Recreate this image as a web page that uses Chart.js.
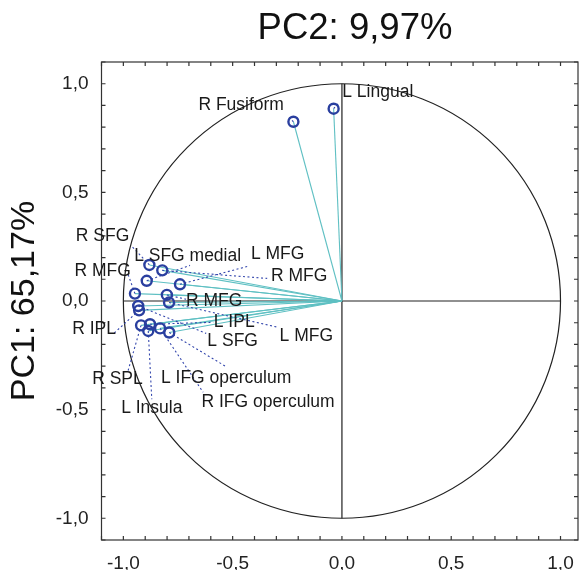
<!DOCTYPE html>
<html><head><meta charset="utf-8">
<script src="https://cdn.jsdelivr.net/npm/chart.js@4/dist/chart.umd.min.js"></script>
<style>html,body{margin:0;padding:0;background:#fff}#wrap{width:580px;height:570px}</style>
</head><body><div id="wrap"><canvas id="c" width="580" height="570"></canvas></div>
<script>
// Regions (variables) and their loadings on PC2 (x) and PC1 (y)
const regions = ["R SFG","L SFG medial","L MFG","R MFG","R MFG","R MFG","L MFG","L IPL","L SFG","R IPL","R SPL","L IFG operculum","R IFG operculum","L Insula","R Fusiform","L Lingual"];
const loadX = [-0.881,-0.893,-0.741,-0.822,-0.947,-0.801,-0.791,-0.878,-0.932,-0.928,-0.919,-0.790,-0.832,-0.886,-0.222,-0.038];
const loadY = [0.166,0.093,0.077,0.141,0.034,0.028,-0.007,-0.107,-0.023,-0.043,-0.112,-0.145,-0.126,-0.138,0.825,0.885];
// label leader-line ends and label text centres (data units)
const anchorX = [-0.965,-0.695,-0.429,-0.342,-0.979,-0.713,-0.292,-0.589,-0.621,-1.047,-0.979,-0.525,-0.635,-0.870,-0.241,-0.012];
const anchorY = [0.256,0.164,0.160,0.104,0.124,0.008,-0.121,-0.098,-0.149,-0.152,-0.323,-0.305,-0.420,-0.452,0.845,0.914];
const textX = [-1.095,-0.706,-0.294,-0.196,-1.095,-0.585,-0.163,-0.493,-0.500,-1.134,-1.027,-0.530,-0.338,-0.870,-0.461,0.164];
const textY = [0.298,0.206,0.215,0.114,0.137,-0.001,-0.162,-0.098,-0.185,-0.130,-0.360,-0.356,-0.466,-0.494,0.901,0.960];
const xTitle = "PC2: 9,97%";
const yTitle = "PC1: 65,17%";
const majorTicks = [-1.0,-0.5,0.0,0.5,1.0];

const FONT = '"Liberation Sans", Arial, sans-serif';
const fmt = v => v.toFixed(1).replace('.', ',');

const datasets = [];
datasets.push({
  data: loadX.map((x,i)=>({x, y: loadY[i]})),
  showLine:false, pointRadius:5, pointHoverRadius:5, pointBorderWidth:2.4,
  pointBorderColor:'#2a3f9f', pointBackgroundColor:'rgba(255,255,255,0)'
});
loadX.forEach((x,i)=>{
  datasets.push({
    data:[{x, y:loadY[i]},{x:anchorX[i], y:anchorY[i]}],
    showLine:true, pointRadius:0, borderColor:'#3447ad', borderWidth:1.1, borderDash:[2,2.5]
  });
});
loadX.forEach((x,i)=>{
  datasets.push({
    data:[{x:0,y:0},{x, y:loadY[i]}],
    showLine:true, pointRadius:0, borderColor:'#5fc0c3', borderWidth:1.1
  });
});

const deco = {
  id:'deco',
  beforeDatasetsDraw(chart){
    const {ctx, scales:{x,y}} = chart;
    const cx = x.getPixelForValue(0), cy = y.getPixelForValue(0);
    const rx = x.getPixelForValue(1)-cx, ry = cy - y.getPixelForValue(1);
    ctx.save();
    ctx.strokeStyle = '#222'; ctx.lineWidth = 1.2;
    ctx.beginPath(); ctx.ellipse(cx, cy, rx, ry, 0, 0, Math.PI*2); ctx.stroke();
    ctx.beginPath();
    ctx.moveTo(x.getPixelForValue(-1), cy); ctx.lineTo(x.getPixelForValue(1), cy);
    ctx.moveTo(cx, y.getPixelForValue(1)); ctx.lineTo(cx, y.getPixelForValue(-1));
    ctx.stroke();
    ctx.restore();
  },
  afterDraw(chart){
    const {ctx, chartArea:a, scales:{x,y}} = chart;
    ctx.save();
    // frame
    ctx.strokeStyle = '#333'; ctx.lineWidth = 1.2;
    ctx.strokeRect(a.left, a.top, a.right-a.left, a.bottom-a.top);
    // inward minor ticks every 0.1
    ctx.beginPath();
    const tl = 4;
    for (let k=-11;k<=11;k++){
      const v = k/10;
      if (v >= x.min && v <= x.max){
        const px = x.getPixelForValue(v);
        ctx.moveTo(px, a.bottom); ctx.lineTo(px, a.bottom-tl);
        ctx.moveTo(px, a.top); ctx.lineTo(px, a.top+tl);
      }
      if (v >= y.min && v <= y.max){
        const py = y.getPixelForValue(v);
        ctx.moveTo(a.left, py); ctx.lineTo(a.left+tl, py);
        ctx.moveTo(a.right, py); ctx.lineTo(a.right-tl, py);
      }
    }
    ctx.stroke();
    // labels
    ctx.fillStyle = '#1a1a1a';
    ctx.font = '17.5px ' + FONT;
    ctx.textAlign = 'center'; ctx.textBaseline = 'middle';
    regions.forEach((r,i)=>{
      ctx.fillText(r, x.getPixelForValue(textX[i]), y.getPixelForValue(textY[i]));
    });
    // titles
    ctx.fillStyle = '#111';
    ctx.font = '36.5px ' + FONT;
    ctx.fillText(xTitle, 355, 29);
    ctx.font = '34px ' + FONT;
    ctx.translate(25, y.getPixelForValue(0));
    ctx.rotate(-Math.PI/2);
    ctx.fillText(yTitle, 0, 0);
    ctx.restore();
  }
};

new Chart(document.getElementById('c'), {
  type:'scatter',
  data:{datasets},
  options:{
    responsive:false, animation:false,
    layout:{autoPadding:false, padding:{left:0,right:2,top:62,bottom:0}},
    plugins:{legend:{display:false}, tooltip:{enabled:false}, title:{display:false}},
    scales:{
      x:{
        type:'linear', min:-1.1, max:1.08,
        afterBuildTicks(s){ s.ticks = majorTicks.map(v=>({value:v})); },
        afterFit(s){ s.height = 30; s.paddingLeft = 0; s.paddingRight = 0; },
        grid:{display:false, drawTicks:false}, border:{display:false},
        ticks:{padding:12, color:'#222', font:{family:FONT, size:19}, callback:v=>fmt(v), maxRotation:0, autoSkip:false}
      },
      y:{
        type:'linear', min:-1.1, max:1.1,
        afterBuildTicks(s){ s.ticks = majorTicks.map(v=>({value:v})); },
        afterFit(s){ s.width = 101.5; s.paddingTop = 0; s.paddingBottom = 0; },
        grid:{display:false, drawTicks:false}, border:{display:false},
        ticks:{padding:13, color:'#222', font:{family:FONT, size:19}, callback:v=>fmt(v), autoSkip:false}
      }
    }
  },
  plugins:[deco]
});
</script>
</body></html>
